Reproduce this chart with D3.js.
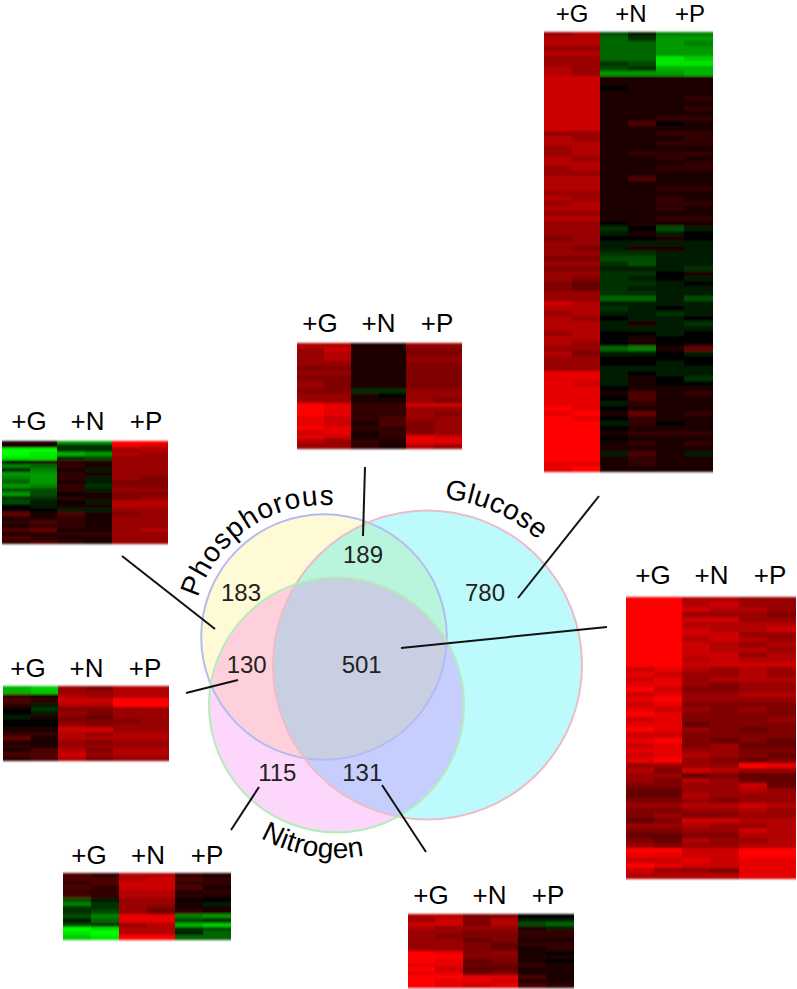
<!DOCTYPE html>
<html lang="en"><head><meta charset="UTF-8">
<script src="https://d3js.org/d3.v7.min.js"></script>
<style>
  html, body { margin: 0; background: #fff; }
  text { font-family: "Liberation Sans", Arial, sans-serif; }
</style>
</head>
<body>
<div id="chart"></div>
<script>
// venn counts
const regionCounts = [183, 189, 780, 130, 501, 115, 131];
const setNames = ["Phosphorous", "Glucose", "Nitrogen"];
const conditions = ["+G", "+N", "+P"];
const replicates = ["a", "b"];

// heatmap rows: +G a, +G b, +N a, +N b, +P a, +P b (-10 green .. 0 black .. 10 red)
const heatGlucose = [
  [6,7,-3,-1,-5,-5],[7,7,-4,-2,-6,-6],[7,7,-4,-4,-6,-5],[6,6,-4,-4,-6,-6],[7,7,-4,-4,-6,-6],
  [6,6,-4,-4,-9,-8],[6,6,-2,-3,-9,-9],[7,6,-3,-2,-7,-7],[7,6,-6,-6,-6,-7],
  [8,8,1,1,1,1],[8,8,1,1,1,1],[8,8,0,1,1,1],[8,8,1,1,1,1],[8,8,1,1,1,2],
  [8,8,1,1,1,1],[8,8,1,1,1,2],[8,8,1,1,1,1],[8,8,1,1,2,2],[8,8,1,3,0,1],[8,8,1,1,1,1],
  [6,6,1,1,2,2],[7,6,1,1,1,2],[7,7,1,1,2,2],[6,7,1,1,1,1],[6,7,1,2,2,2],
  [7,6,1,1,2,1],[7,7,1,1,1,2],[6,7,1,1,2,2],[6,6,1,1,1,1],[7,7,1,3,1,1],
  [7,7,1,1,1,1],[7,7,1,1,2,2],[6,6,1,1,1,1],[7,6,1,1,2,1],[6,7,1,1,2,2],
  [7,7,1,1,2,1],[6,6,1,1,1,1],[7,7,1,1,2,2],[6,6,0,1,1,1],[6,6,-2,0,-3,-1],
  [6,6,-1,1,-1,0],[5,6,0,0,1,0],[6,6,-1,-1,-1,-1],[6,5,-1,1,1,-1],[6,6,-2,-2,-1,-1],
  [5,5,-3,-3,-1,-1],[6,6,-2,-3,-1,-1],[5,5,-1,-1,-1,-2],[6,6,-2,-2,0,1],[6,5,-2,-1,0,-1],
  [5,4,-2,-2,-1,0],[5,4,-2,-1,-1,-1],[6,6,-2,-2,-1,-1],[6,6,-4,-4,-1,-3],
  [8,7,-1,-1,-1,-1],[7,7,-2,-1,0,-1],[6,7,-1,-1,-2,-1],[7,6,0,-1,-1,0],[7,7,-1,1,-1,-2],
  [7,7,-1,-1,-1,-1],[6,7,0,0,-1,0],[7,7,0,1,0,0],[7,6,0,1,0,0],[6,6,-4,-5,1,4],
  [7,5,-1,-1,0,-1],[6,6,0,0,0,0],[6,6,0,0,-1,0],[6,6,-1,-1,-1,-1],
  [9,9,-1,0,-1,-1],[9,9,-1,1,0,-2],[9,8,-1,1,0,0],[9,9,0,1,1,1],[9,9,1,3,1,2],
  [9,9,0,3,1,1],[9,9,-1,2,1,1],[10,9,0,1,1,1],[9,10,1,4,1,2],[10,9,0,2,1,1],
  [10,10,-1,2,0,1],[10,10,0,1,1,1],[10,10,1,2,2,2],[10,10,0,1,1,1],[10,10,1,2,1,2],
  [10,10,1,1,1,1],[10,10,-1,3,1,-1],[10,10,1,2,1,1],[9,9,1,2,1,1],[9,10,1,1,1,1]
];
const heatCenter = [
  [7,7,1,1,6,6],[6,8,1,1,5,5],[6,7,1,1,5,5],[6,7,1,1,6,6],[6,6,1,1,5,5],
  [5,5,1,1,5,5],[6,6,1,1,5,5],[5,5,1,1,5,5],[6,5,1,1,5,5],[6,5,1,1,5,5],
  [5,5,-2,-2,6,6],[6,6,1,0,6,6],[6,6,1,1,6,5],
  [10,9,2,2,8,8],[10,9,2,2,6,6],[10,9,2,2,6,5],[9,8,2,3,6,6],[9,8,1,3,5,6],
  [10,9,2,2,5,6],[8,9,1,2,5,6],[9,8,1,2,9,8],[7,6,2,1,9,9],[6,6,2,1,7,6]
];
const heatLeftUpper = [
  [1,1,-6,-6,10,10],[1,1,-2,-2,9,8],[-10,-10,-2,-2,6,7],[-10,-9,-7,-6,7,6],[-9,-9,-2,-3,6,6],
  [0,1,2,1,6,6],[-5,-4,2,1,6,6],[-1,-5,1,-1,6,6],[-6,-6,2,1,6,6],[-5,-6,2,-1,6,5],
  [-4,-6,1,-1,5,5],[-6,-5,2,-2,5,5],[-3,-3,2,-1,6,6],[-6,-3,0,1,5,5],[-2,-2,2,1,5,6],
  [-3,-1,0,-1,7,7],[0,-1,1,1,7,7],[0,0,-1,-1,6,6],[4,1,3,1,5,6],[1,1,2,1,6,6],
  [2,3,2,1,6,6],[1,2,2,1,6,6],[3,4,1,1,6,7],[1,1,2,2,6,6],[3,2,1,1,6,6],[2,3,2,1,6,6]
];
const heatLeftLower = [
  [-7,-8,6,5,7,7],[-7,-8,6,6,7,7],[2,1,7,6,7,7],[3,2,8,8,10,10],[2,-1,7,7,10,10],
  [0,-2,5,5,6,6],[0,-1,6,5,6,6],[-1,1,5,4,6,6],[0,0,5,5,5,6],[0,0,6,5,6,6],
  [1,1,8,8,6,6],[2,2,7,6,7,7],[4,1,7,7,7,7],[1,1,6,5,6,6],[2,1,6,6,6,6],
  [1,3,7,5,7,7],[3,3,8,6,7,7],[2,3,7,5,6,6]
];
const heatBottomLeft = [
  [3,2,7,7,2,1],[3,3,7,8,3,2],[2,3,8,8,2,2],[3,2,8,8,3,1],[2,2,7,7,1,2],
  [3,2,7,7,2,1],[-3,-1,6,6,0,0],[-5,-2,6,6,1,-1],[-2,-2,6,5,1,1],[-2,-3,6,4,2,1],
  [-3,-5,9,9,-5,-6],[-1,-4,9,9,-3,-2],[-3,-2,6,7,-7,-8],[-10,-9,7,7,-2,-3],[-9,-10,7,7,-1,-4],[-8,-9,10,10,-4,-4]
];
const heatBottomRight = [
  [7,7,5,5,0,0],[6,8,5,7,-1,-1],[8,8,5,7,-3,-4],[7,6,6,6,1,-1],[6,6,5,5,2,2],
  [6,5,5,5,2,2],[6,6,4,5,1,1],[6,6,5,4,2,2],[6,6,5,4,1,2],[10,9,5,6,1,0],
  [10,10,5,5,1,1],[10,9,4,5,1,0],[9,9,4,4,2,1],[10,8,4,4,1,1],[9,9,4,5,1,1],
  [10,10,9,9,3,1],[10,9,9,8,1,1],[10,9,8,9,3,2]
];
const heatRight = [
  [10,10,7,7,6,6],[10,10,7,8,6,6],[10,10,8,7,7,6],[10,10,6,6,6,5],[10,10,8,8,6,6],
  [10,10,7,7,7,7],[10,10,8,7,7,8],[10,10,8,8,6,6],[10,10,7,8,7,6],[10,10,8,7,6,7],
  [10,10,8,7,7,6],[10,10,8,8,6,7],[10,10,7,8,7,7],[10,10,8,8,8,8],
  [8,9,7,6,7,6],[9,8,6,6,7,6],[8,9,6,7,7,7],[9,9,6,5,6,6],[10,8,5,5,6,6],
  [8,9,6,6,7,7],[9,10,6,6,6,6],[8,9,5,5,5,5],[9,8,6,5,6,5],[10,9,5,5,5,5],
  [8,9,5,5,5,6],[9,9,4,5,5,5],[10,9,6,5,4,5],[8,8,5,5,5,5],[9,10,5,4,5,4],
  [8,9,5,6,4,4],[9,9,6,6,5,5],[8,9,7,6,5,4],[9,10,6,5,4,5],
  [6,6,6,6,10,9],[7,5,8,7,6,6],[6,6,4,5,4,4],[6,5,7,6,4,4],[5,5,6,6,8,4],
  [4,4,6,6,7,6],[4,4,7,6,6,6],[5,5,6,5,6,6],[6,6,7,7,8,7],[5,5,6,6,7,6],
  [5,6,5,5,6,6],[4,5,8,8,7,7],[6,6,7,6,6,7],[5,5,6,6,8,7],[4,4,5,5,7,7],
  [5,4,7,6,6,7],[6,5,6,6,7,7],
  [10,10,8,8,10,10],[9,9,8,8,10,10],[8,8,9,8,9,9],[10,9,8,8,9,9],[8,6,6,5,9,9],[7,7,7,7,9,9]
];

const width = 797, height = 989;
const svg = d3.select("#chart").append("svg")
  .attr("width", width).attr("height", height)
  .attr("viewBox", [0, 0, width, height]);

const color = d3.scaleLinear().domain([-10, 0, 10]).range(["#00ff00", "#000000", "#ff0000"]);

// venn
const circles = {
  P: { cx: 324, cy: 637, r: 122.8, stroke: "#b3bbf2" },
  G: { cx: 427.5, cy: 665, r: 154.5, stroke: "#ebbcc8" },
  N: { cx: 336.5, cy: 705, r: 127.5, stroke: "#b4ecb8" }
};
const defs = svg.append("defs");
// the source picture is a soft scan, rows should not look hard edged
defs.append("filter").attr("id", "soft")
  .append("feGaussianBlur").attr("stdDeviation", "0.5 0.9");
Object.entries(circles).forEach(([k, c]) => {
  defs.append("clipPath").attr("id", "clip" + k).append("circle")
    .attr("cx", c.cx).attr("cy", c.cy).attr("r", c.r);
});
const venn = svg.append("g");
function fillCircle(key, fill, clip) {
  let parent = venn;
  (clip || []).forEach(k => { parent = parent.append("g").attr("clip-path", `url(#clip${k})`); });
  const c = circles[key];
  parent.append("circle").attr("cx", c.cx).attr("cy", c.cy).attr("r", c.r).attr("fill", fill);
}
fillCircle("P", "#fefad6");
fillCircle("N", "#fdd6fb");
fillCircle("G", "#bcfafc");
fillCircle("P", "#b9f5dd", ["G"]);
fillCircle("N", "#fdd0dc", ["P"]);
fillCircle("N", "#c6cefe", ["G"]);
fillCircle("N", "#c9cfe3", ["P", "G"]);
Object.values(circles).forEach(c => {
  venn.append("circle").attr("cx", c.cx).attr("cy", c.cy).attr("r", c.r)
    .attr("fill", "none").attr("stroke", c.stroke).attr("stroke-width", 2);
});

// set names follow the circles
const namePaths = [
  { id: "pathP", c: circles.P, r: 132, a0: -1.27, a1: 0.3, ccw: false, size: 28, spacing: 1.2 },
  { id: "pathG", c: circles.G, r: 167, a0: 0.1, a1: 1.0, ccw: false, size: 28, spacing: 0.3 },
  { id: "pathN", c: circles.N, r: 153, a0: Math.PI + 0.52, a1: Math.PI - 0.5, ccw: true, size: 28, spacing: 0.2 }
];
namePaths.forEach((p, i) => {
  const ctx = d3.path();
  // d3.path angles start at 3 o'clock, ours start at 12 o'clock
  ctx.arc(p.c.cx, p.c.cy, p.r, p.a0 - Math.PI / 2, p.a1 - Math.PI / 2, p.ccw);
  defs.append("path").attr("id", p.id).attr("d", ctx.toString());
  svg.append("text").attr("font-size", p.size).attr("fill", "#000")
    .attr("letter-spacing", p.spacing)
    .append("textPath").attr("href", "#" + p.id).text(setNames[i]);
});

// counts
const countSpots = [[241, 600.7], [363, 562.7], [485, 600.7], [246.7, 672.7], [361.7, 672.7], [277.3, 780.7], [362.3, 780.7]];
svg.append("g").selectAll("text").data(regionCounts).join("text")
  .attr("x", (d, i) => countSpots[i][0])
  .attr("y", (d, i) => countSpots[i][1])
  .attr("text-anchor", "middle").attr("font-size", 24).attr("fill", "#222")
  .text(d => d);

// leader lines
const leaders = [
  [365, 467, 363, 536], [599, 496, 518, 598], [607, 627, 401, 648], [122, 556, 215, 629],
  [186, 693, 238, 680], [231, 830, 259, 787], [426, 852, 382, 785]
];
svg.append("g").selectAll("line").data(leaders).join("line")
  .attr("x1", d => d[0]).attr("y1", d => d[1]).attr("x2", d => d[2]).attr("y2", d => d[3])
  .attr("stroke", "#111").attr("stroke-width", 2);

// heatmaps
const cols = conditions.flatMap(c => replicates.map(r => c + r));
function heatmap(rows, x0, x1, y0, y1, label0, label1, baseline, labelSize) {
  const x = d3.scaleBand().domain(cols).range([x0, x1]);
  const y = d3.scaleBand().domain(d3.range(rows.length)).range([y0, y1]);
  const g = svg.append("g").attr("shape-rendering", "crispEdges").attr("filter", "url(#soft)");
  rows.forEach((row, i) => {
    g.selectAll(null).data(row).join("rect")
      .attr("x", (d, j) => x(cols[j]))
      .attr("y", y(i))
      .attr("width", x.bandwidth() + 0.5)
      .attr("height", y.bandwidth() + 0.5)
      .attr("fill", d => color(d));
  });
  const lx = d3.scalePoint().domain(conditions).range([label0, label1]);
  svg.append("g").selectAll("text").data(conditions).join("text")
    .attr("x", d => lx(d)).attr("y", baseline)
    .attr("text-anchor", "middle").attr("font-size", labelSize || 26).attr("fill", "#000")
    .text(d => d);
}
heatmap(heatGlucose, 544, 712.5, 31.5, 471, 572, 690, 22, 24);
heatmap(heatCenter, 296.5, 461, 343, 448.5, 320, 437, 332);
heatmap(heatLeftUpper, 2, 167.5, 440.5, 543.5, 29, 146, 430);
heatmap(heatLeftLower, 3, 168.5, 686, 760.5, 28, 145, 677);
heatmap(heatBottomLeft, 63, 230.5, 873, 939, 89, 207, 864);
heatmap(heatBottomRight, 407.5, 573.5, 914, 987, 431, 548, 904);
heatmap(heatRight, 625.5, 795, 596.5, 878.5, 653, 770, 584);
</script>
</body>
</html>
